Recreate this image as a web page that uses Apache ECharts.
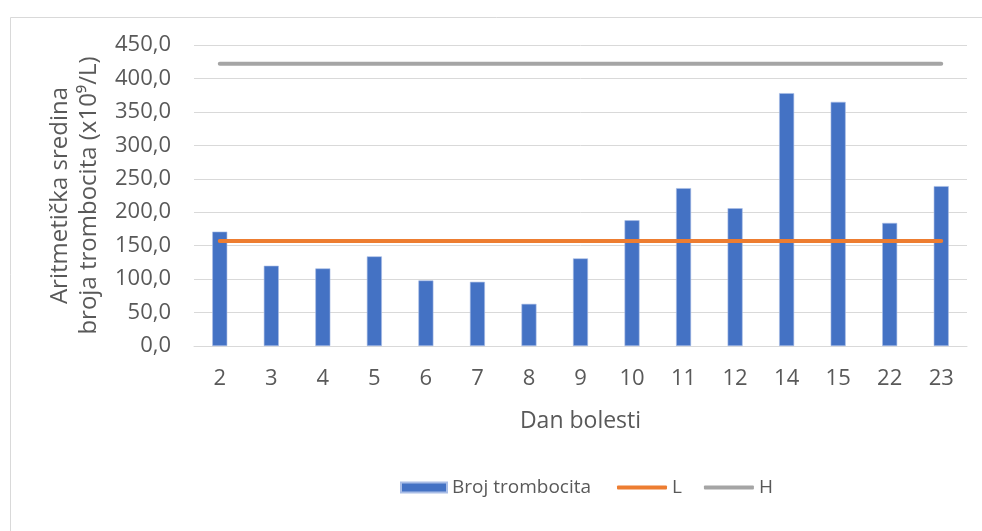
<!DOCTYPE html>
<html>
<head>
<meta charset="utf-8">
<script src="https://cdn.jsdelivr.net/npm/echarts@6/dist/echarts.min.js"></script>
<style>
html,body{margin:0;padding:0;background:#fff;}
#c{width:982px;height:531px;}
</style>
</head>
<body>
<div id="c"></div>
<script>
const categories = ['2','3','4','5','6','7','8','9','10','11','12','14','15','22','23'];
const plateletCounts = [171,120,116,134,98,96,63,131,188,236,206,378,365,184,239];
const lowValue = 157;
const highValue = 422;
const lowLine = categories.map(() => lowValue);
const highLine = categories.map(() => highValue);
const yTicks = { min: 0, max: 450, interval: 50 };

const font = 'Open Sans';
const txt = '#595959';
const chart = echarts.init(document.getElementById('c'), null, {renderer: 'canvas'});
chart.setOption({
  animation: false,
  backgroundColor: '#fff',
  graphic: [{
    type: 'rect', left: 8, top: 15, silent: true,
    shape: {width: 1000, height: 540},
    style: {fill: 'none', stroke: '#d9d9d9', lineWidth: 1}
  }],
  grid: {left: 194, right: 15, top: 45, bottom: 185, containLabel: false},
  legend: [{
    top: 478, left: 400, padding: 0,
    itemWidth: 46, itemHeight: 10, itemGap: 22,
    textStyle: {fontFamily: font, fontSize: 19, color: txt},
    data: [{name: 'Broj trombocita', icon: 'rect'}]
  }, {
    top: 478, left: 617, padding: 0,
    itemWidth: 50, itemHeight: 4, itemGap: 22,
    textStyle: {fontFamily: font, fontSize: 19, color: txt},
    data: [{name: 'L', icon: 'roundRect'}, {name: 'H', icon: 'roundRect'}]
  }],
  xAxis: {
    type: 'category', data: categories,
    name: 'Dan bolesti', nameLocation: 'middle', nameGap: 64,
    nameTextStyle: {fontFamily: font, fontSize: 23, color: txt},
    axisLine: {lineStyle: {color: '#d9d9d9', width: 1}},
    axisTick: {show: false},
    axisLabel: {fontFamily: font, fontSize: 22, color: txt, margin: 22}
  },
  yAxis: {
    type: 'value', min: yTicks.min, max: yTicks.max, interval: yTicks.interval,
    name: 'Aritmetička sredina\nbroja trombocita (x10⁹/L)',
    nameLocation: 'middle', nameRotate: 90, nameGap: 88,
    nameTextStyle: {fontFamily: font, fontSize: 24, color: txt, lineHeight: 29},
    axisLine: {show: false}, axisTick: {show: false},
    splitLine: {lineStyle: {color: '#d9d9d9', width: 1}},
    axisLabel: {
      fontFamily: font, fontSize: 22, color: txt, margin: 23,
      formatter: v => v.toFixed(1).replace('.', ',')
    }
  },
  series: [
    {
      name: 'Broj trombocita', type: 'bar', data: plateletCounts,
      barWidth: 15,
      itemStyle: {color: '#4472C4', borderColor: '#a9bde6', borderWidth: 0.6}
    },
    {
      name: 'L', type: 'line', data: lowLine, symbol: 'none',
      lineStyle: {color: '#ED7D31', width: 4, cap: 'round'},
      itemStyle: {color: '#ED7D31'}
    },
    {
      name: 'H', type: 'line', data: highLine, symbol: 'none',
      lineStyle: {color: '#A5A5A5', width: 4, cap: 'round'},
      itemStyle: {color: '#A5A5A5'}
    }
  ]
});
</script>
</body>
</html>
